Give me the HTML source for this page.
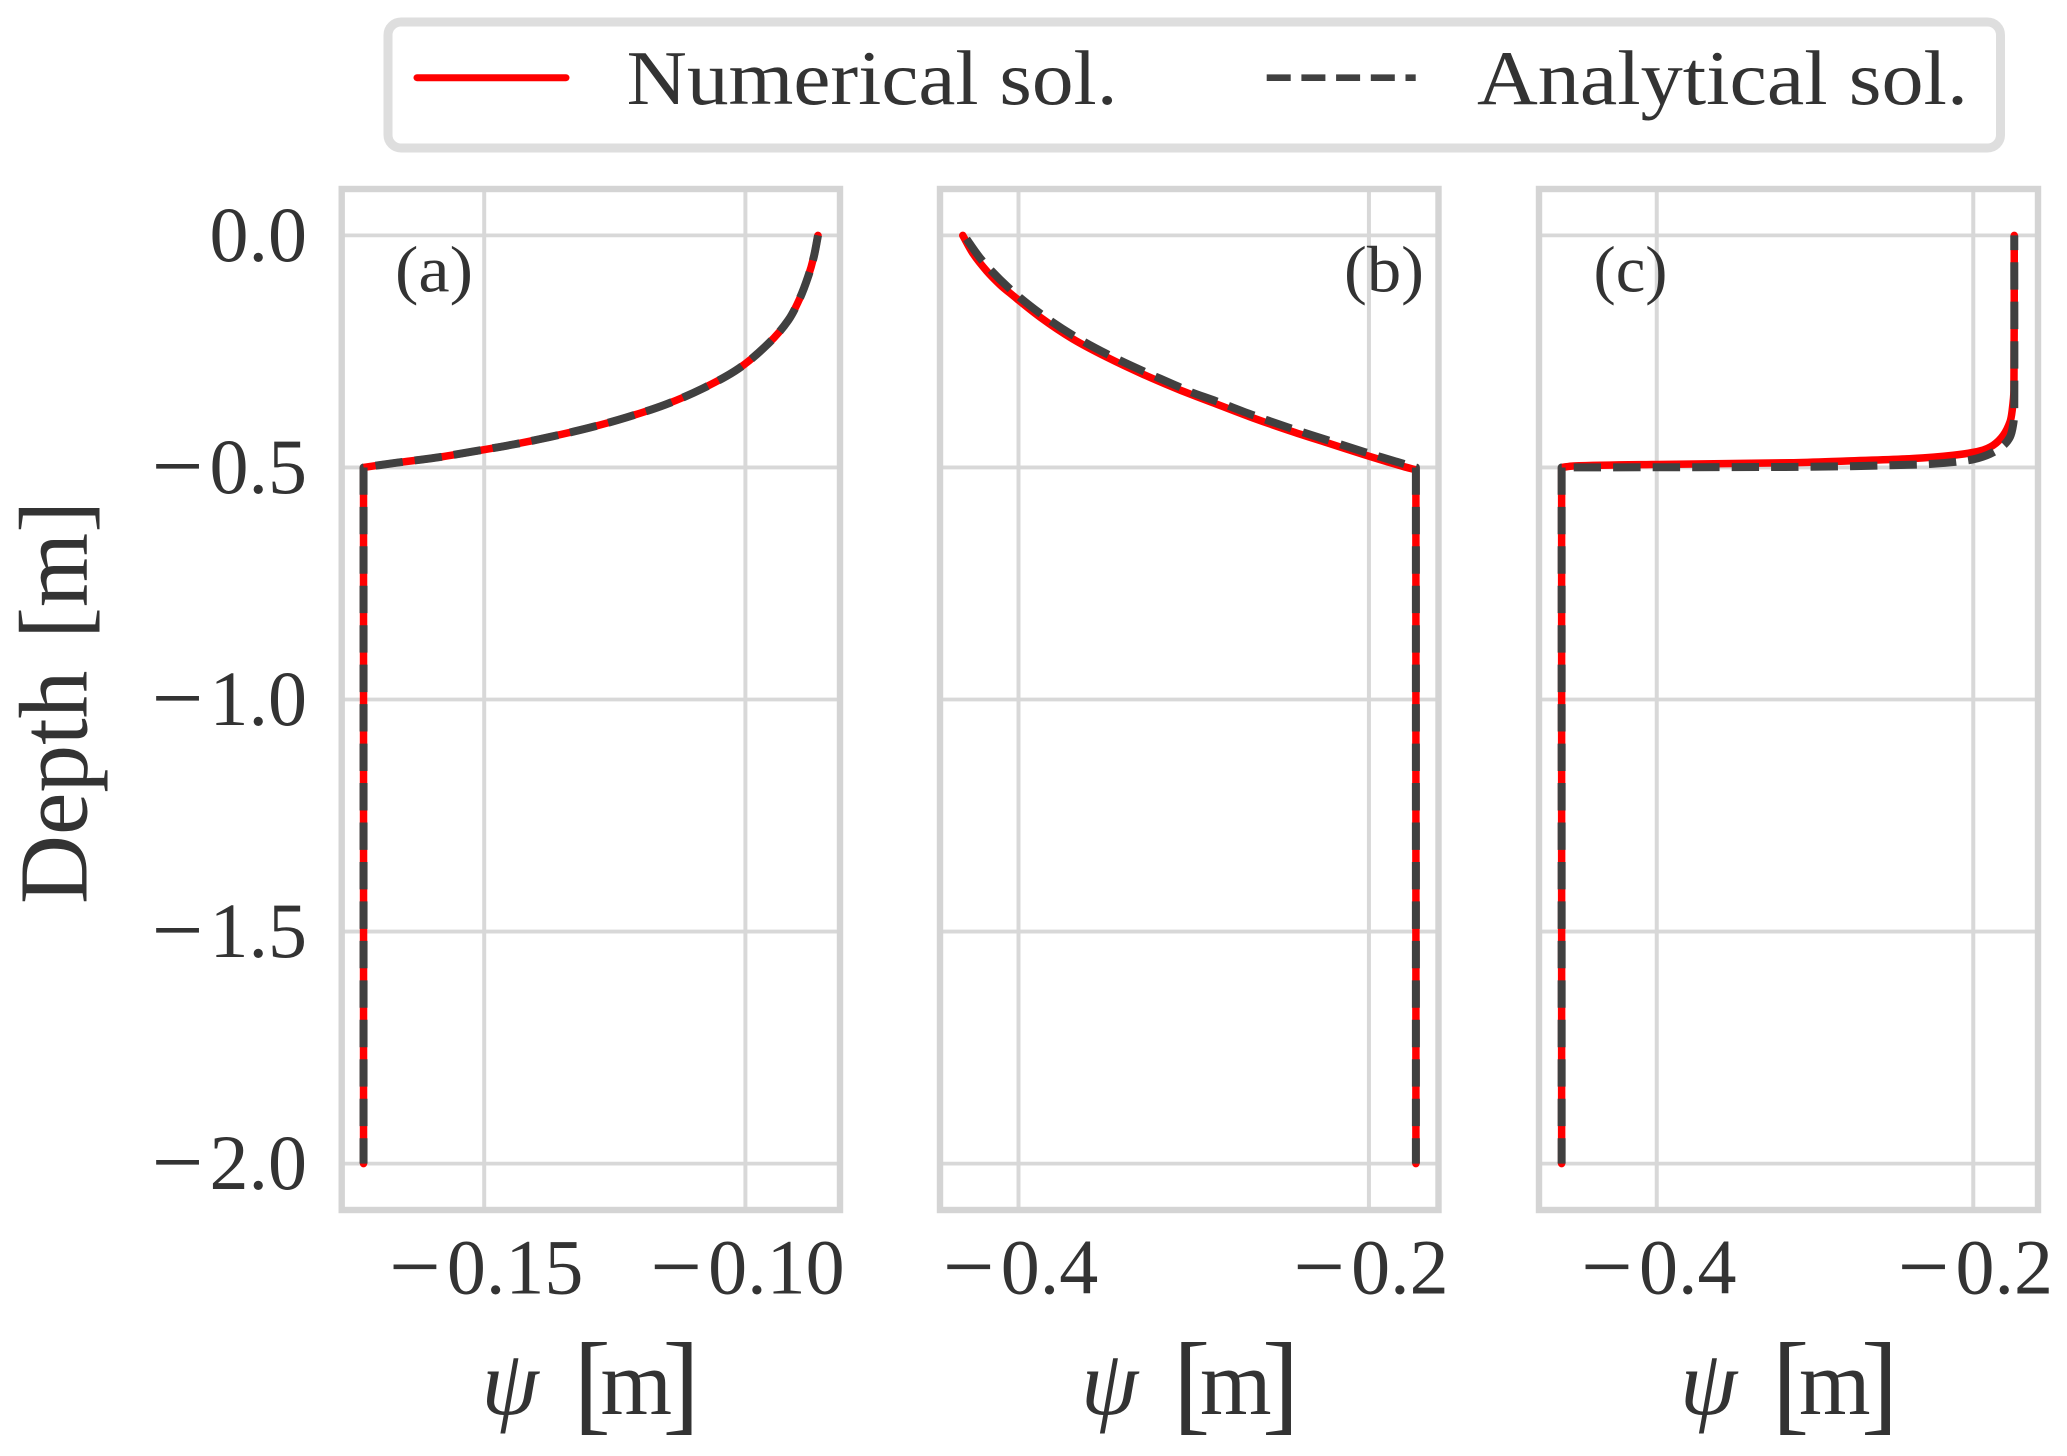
<!DOCTYPE html>
<html lang="en">
<head>
<meta charset="utf-8">
<title>Depth profiles of pressure head: numerical vs analytical</title>
<style>
  html, body { margin: 0; padding: 0; background: #fff; }
  svg { display: block; }
  text { font-family: "Liberation Serif", "DejaVu Serif", serif; fill: #333; }
</style>
</head>
<body>
<svg id="chart" xmlns="http://www.w3.org/2000/svg" width="2067" height="1456" viewBox="0 0 2067 1456">
  <g id="panels"></g>

  <g>
    <rect x="388" y="22" width="1612.5" height="126" rx="13" ry="13" fill="#fff" stroke="#dedede" stroke-width="9"></rect>
    <line x1="417" y1="77.7" x2="566" y2="77.7" stroke="#ff0000" stroke-width="7" stroke-linecap="round"></line>
    <text x="626.6" y="104" font-size="77" textLength="491" lengthAdjust="spacingAndGlyphs">Numerical sol.</text>
    <line x1="1266.7" y1="77.7" x2="1415.7" y2="77.7" stroke="#404040" stroke-width="6.6" stroke-dasharray="24 10.7"></line>
    <text x="1477" y="104" font-size="77" textLength="491" lengthAdjust="spacingAndGlyphs">Analytical sol.</text>
  </g>

  <text transform="translate(86.7 904) rotate(-90)" font-size="97" textLength="403" lengthAdjust="spacingAndGlyphs" word-spacing="8">Depth [m]</text>
</svg>

<script>
// Shared y axis
const yTicks = [0, -0.5, -1, -1.5, -2];
const yTickLabels = ["0.0", "\u22120.5", "\u22121.0", "\u22121.5", "\u22122.0"];

// Panel (a)
const xTicksA = [-0.15, -0.10];
const xTickLabelsA = ["\u22120.15", "\u22120.10"];
const numericalPsiA = [-0.1731, -0.1731, -0.1669, -0.1593, -0.1518, -0.1442, -0.1373, -0.1297, -0.1227, -0.1152, -0.1082, -0.1013, -0.0956, -0.0918, -0.0896, -0.0880, -0.0869, -0.0861];
const numericalDepthA = [-2.0, -0.500, -0.490, -0.479, -0.465, -0.450, -0.434, -0.414, -0.392, -0.364, -0.330, -0.287, -0.233, -0.183, -0.136, -0.089, -0.046, 0];
const analyticalPsiA = [-0.1731, -0.1731, -0.1669, -0.1593, -0.1518, -0.1442, -0.1373, -0.1297, -0.1227, -0.1152, -0.1082, -0.1013, -0.0956, -0.0918, -0.0896, -0.0880, -0.0869, -0.0861];
const analyticalDepthA = [-2.0, -0.500, -0.490, -0.479, -0.465, -0.450, -0.434, -0.414, -0.392, -0.364, -0.330, -0.287, -0.233, -0.183, -0.136, -0.089, -0.046, 0];

// Panel (b)
const xTicksB = [-0.4, -0.2];
const xTickLabelsB = ["\u22120.4", "\u22120.2"];
const numericalPsiB = [-0.1732, -0.1732, -0.1804, -0.2023, -0.2238, -0.2451, -0.2664, -0.2873, -0.3086, -0.3291, -0.3493, -0.3691, -0.3877, -0.4053, -0.4106, -0.4181, -0.4258, -0.4318];
const numericalDepthB = [-2.0, -0.505, -0.498, -0.473, -0.447, -0.421, -0.393, -0.363, -0.332, -0.299, -0.263, -0.223, -0.176, -0.123, -0.106, -0.077, -0.040, 0];
const analyticalPsiB = [-0.1732, -0.1732, -0.1804, -0.2023, -0.2238, -0.2451, -0.2664, -0.2873, -0.3021, -0.3086, -0.3291, -0.3493, -0.3691, -0.3877, -0.4053, -0.4210, -0.4311];
const analyticalDepthB = [-2.0, -0.500, -0.492, -0.467, -0.441, -0.415, -0.387, -0.357, -0.337, -0.326, -0.292, -0.256, -0.215, -0.168, -0.114, -0.053, 0];

// Panel (c)
const xTicksC = [-0.4, -0.2];
const xTickLabelsC = ["\u22120.4", "\u22120.2"];
const numericalPsiC = [-0.4601, -0.4601, -0.4527, -0.4000, -0.3158, -0.2800, -0.2381, -0.2126, -0.1958, -0.1874, -0.1810, -0.1768, -0.1754, -0.1743, -0.1741];
const numericalDepthC = [-2.0, -0.500, -0.4968, -0.4935, -0.4899, -0.4860, -0.4808, -0.4737, -0.4644, -0.4521, -0.4306, -0.4019, -0.3767, -0.3335, 0];
const analyticalPsiC = [-0.4601, -0.4601, -0.3221, -0.2779, -0.2526, -0.2274, -0.2032, -0.1915, -0.1821, -0.1768, -0.1747, -0.1741, -0.1741];
const analyticalDepthC = [-2.0, -0.500, -0.499, -0.4974, -0.4953, -0.4925, -0.4845, -0.4737, -0.4558, -0.4342, -0.4054, -0.3767, 0];

const SVG_NS = "http://www.w3.org/2000/svg";
const host = document.getElementById("panels");
const FRAME_TOP = 189, FRAME_BOTTOM = 1210;
const Y_MAX = 0.1, Y_MIN = -2.1;

function make(tag, attrs, parent) {
  const node = document.createElementNS(SVG_NS, tag);
  for (const key in attrs) node.setAttribute(key, attrs[key]);
  parent.appendChild(node);
  return node;
}
function yScale(depth) {
  return FRAME_TOP + (Y_MAX - depth) / (Y_MAX - Y_MIN) * (FRAME_BOTTOM - FRAME_TOP);
}
function linearX(xMin, xMax, left, right) {
  return function (psi) { return left + (psi - xMin) / (xMax - xMin) * (right - left); };
}
function unit(dx, dy) {
  const len = Math.hypot(dx, dy) || 1;
  return [dx / len, dy / len];
}
// Straight drop from the deepest point to the kink, then a smooth curve through the read values
function pathFrom(xs, ys, xScale) {
  const pts = xs.map(function (v, i) { return [xScale(v), yScale(ys[i])]; });
  const n = pts.length;
  const tangents = pts.map(function (p, i) {
    if (i <= 1) return unit(pts[2][0] - pts[1][0], pts[2][1] - pts[1][1]);
    if (i === n - 1) return unit(p[0] - pts[i - 1][0], p[1] - pts[i - 1][1]);
    return unit(pts[i + 1][0] - pts[i - 1][0], pts[i + 1][1] - pts[i - 1][1]);
  });
  let d = "M" + pts[0][0].toFixed(2) + " " + pts[0][1].toFixed(2) + " L" + pts[1][0].toFixed(2) + " " + pts[1][1].toFixed(2);
  for (let i = 1; i < n - 1; i++) {
    const a = pts[i], b = pts[i + 1];
    const h = Math.min(Math.hypot(b[0] - a[0], b[1] - a[1]) / 3, 40);
    d += " C" + (a[0] + tangents[i][0] * h).toFixed(2) + " " + (a[1] + tangents[i][1] * h).toFixed(2) +
         " " + (b[0] - tangents[i + 1][0] * h).toFixed(2) + " " + (b[1] - tangents[i + 1][1] * h).toFixed(2) +
         " " + b[0].toFixed(2) + " " + b[1].toFixed(2);
  }
  return d;
}
// Tick label: a wider minus sign (as in Computer Modern) followed by digits
function fillTick(textNode, label) {
  if (label.charAt(0) === "\u2212") {
    const minus = make("tspan", { "font-size": "92", dy: "4" }, textNode);
    minus.textContent = "\u2212";
    const digits = make("tspan", { dx: "6", dy: "-4" }, textNode);
    digits.textContent = label.slice(1);
  } else {
    textNode.textContent = label;
  }
}

function drawPanel(id, left, right, xMin, xMax, xTicks, xLabels, numPsi, numDepth, anaPsi, anaDepth, tagLabel, tagX, tagLen, titleX, showY) {
  const xScale = linearX(xMin, xMax, left, right);

  const g = make("g", {}, host);
  
  

  yTicks.forEach(function (t, i) {
    const grid = make("line", { x1: left, x2: right, y1: yScale(t), y2: yScale(t), stroke: "#d8d8d8", "stroke-width": 3.8 }, g);
    
    
    if (showY) {
      const lab = make("text", { x: 307, y: yScale(t) + 25.5, "text-anchor": "end", "font-size": 78 }, g);
      
      
      fillTick(lab, yTickLabels[i]);
    }
  });

  xTicks.forEach(function (t, i) {
    const grid = make("line", { x1: xScale(t), x2: xScale(t), y1: FRAME_TOP, y2: FRAME_BOTTOM, stroke: "#d8d8d8", "stroke-width": 4 }, g);
    
    
    const lab = make("text", { x: xScale(t) + 2, y: 1293.5, "text-anchor": "middle", "font-size": 78 }, g);
    
    
    fillTick(lab, xLabels[i]);
  });

  const frame = make("rect", { x: left, y: FRAME_TOP, width: right - left, height: FRAME_BOTTOM - FRAME_TOP, fill: "none", stroke: "#d4d4d4", "stroke-width": 6.4 }, g);
  
  

  const numerical = make("path", { d: pathFrom(numPsi, numDepth, xScale), fill: "none", stroke: "#ff0000", "stroke-width": 7.5, "stroke-linejoin": "round", "stroke-linecap": "round" }, g);
  
  

  const analytical = make("path", { d: pathFrom(anaPsi, anaDepth, xScale), fill: "none", stroke: "#404040", "stroke-width": 8, "stroke-dasharray": "27.4 12.06", "stroke-dashoffset": 2, "stroke-linejoin": "round" }, g);
  
  

  const tag = make("text", { x: tagX, y: 291.7, "font-size": 66, textLength: tagLen, lengthAdjust: "spacingAndGlyphs" }, g);
  
  
  tag.textContent = tagLabel;

  // Axis title: psi [m], glyphs spaced to match the original math typesetting
  const title = make("text", { y: 1414, "font-size": 92 }, g);
  
  
  const psi = make("tspan", { x: titleX, "font-style": "italic", "font-size": 92 }, title);
  psi.textContent = "\u03C8";
  const open = make("tspan", { x: titleX + 92, "font-size": 112, dy: 6 }, title);
  open.textContent = "[";
  const m = make("tspan", { x: titleX + 119, "font-size": 92, dy: -6 }, title);
  m.textContent = "m";
  const close = make("tspan", { x: titleX + 181, "font-size": 112, dy: 6 }, title);
  close.textContent = "]";
}

drawPanel("a", 341.7, 840, -0.17728, -0.08189, xTicksA, xTickLabelsA, numericalPsiA, numericalDepthA, analyticalPsiA, analyticalDepthA, "(a)", 395, 78, 481.5, true);
drawPanel("b", 940, 1438.5, -0.4448, -0.1603, xTicksB, xTickLabelsB, numericalPsiB, numericalDepthB, analyticalPsiB, analyticalDepthB, "(b)", 1344, 80, 1081, false);
drawPanel("c", 1539, 2038, -0.4744, -0.1591, xTicksC, xTickLabelsC, numericalPsiC, numericalDepthC, analyticalPsiC, analyticalDepthC, "(c)", 1593.5, 74, 1680, false);
</script>
</body>
</html>
